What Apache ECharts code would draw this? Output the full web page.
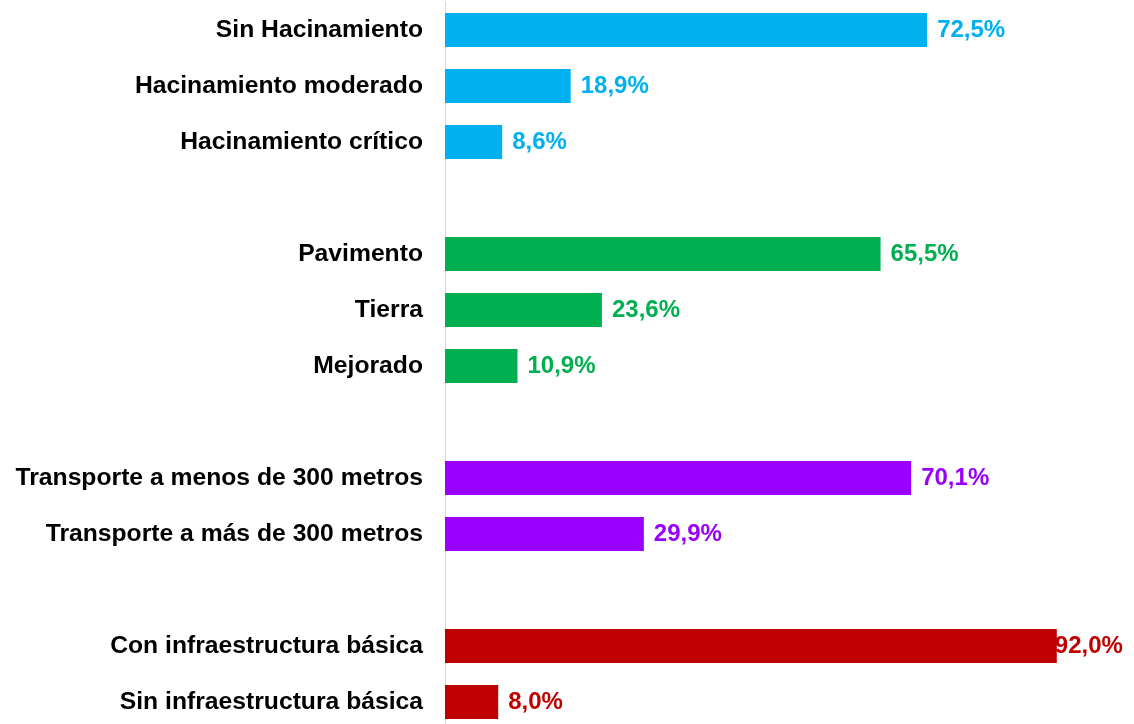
<!DOCTYPE html>
<html>
<head>
<meta charset="utf-8">
<script src="https://cdn.jsdelivr.net/npm/echarts@6/dist/echarts.min.js"></script>
<style>
  html, body { margin: 0; padding: 0; background: #fff; overflow: hidden; }
  #chart { width: 1134px; height: 732px; }
</style>
</head>
<body>
<div id="chart"></div>
<script>
// categorias (las vacias son separadores entre grupos)
const categories = [
  'Sin Hacinamiento', 'Hacinamiento moderado', 'Hacinamiento crítico', ' ',
  'Pavimento', 'Tierra', 'Mejorado', '  ',
  'Transporte a menos de 300 metros', 'Transporte a más de 300 metros', '   ',
  'Con infraestructura básica', 'Sin infraestructura básica'
]
const values = [72.5, 18.9, 8.6, null, 65.5, 23.6, 10.9, null, 70.1, 29.9, null, 92.0, 8.0]
const groups = [0, 0, 0, null, 1, 1, 1, null, 2, 2, null, 3, 3]
const groupColors = ['#00B0F0', '#00B050', '#9900FF', '#C00000']

const fontFamily = '"Liberation Sans", Arial, sans-serif'

const fmt = v => v.toFixed(1).replace('.', ',') + '%'

const seriesData = values.map((v, i) => {
  if (v === null) return null
  const color = groupColors[groups[i]]
  return {
    value: v,
    itemStyle: { color },
    label: { color, distance: v > 90 ? -2 : 10 }
  }
})

const chart = echarts.init(document.getElementById('chart'))
chart.setOption({
  animation: false,
  grid: { left: 445, top: 2, width: 665, height: 728, containLabel: false },
  xAxis: {
    type: 'value',
    min: 0,
    max: 100,
    show: false
  },
  yAxis: {
    type: 'category',
    inverse: true,
    data: categories,
    axisLine: { show: true, lineStyle: { color: '#D9D9D9', width: 1 } },
    axisTick: { show: false },
    axisLabel: {
      margin: 22,
      color: '#000',
      fontSize: 24.7,
      fontWeight: 'bold',
      fontFamily,
      padding: [4, 0, 0, 0]
    }
  },
  series: [{
    type: 'bar',
    data: seriesData,
    barWidth: 34,
    label: {
      show: true,
      position: 'right',
      fontSize: 24,
      fontWeight: 'bold',
      fontFamily,
      padding: [4, 0, 0, 0],
      formatter: p => fmt(p.value)
    }
  }]
})
</script>
</body>
</html>
